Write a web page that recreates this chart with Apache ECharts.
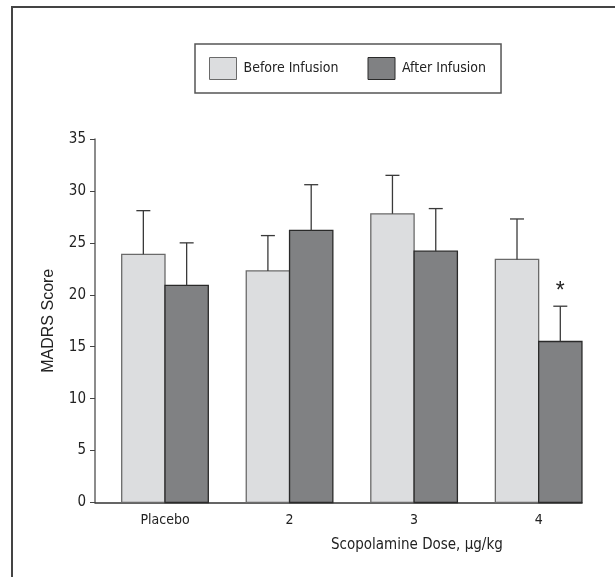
<!DOCTYPE html>
<html>
<head>
<meta charset="utf-8">
<script src="https://cdn.jsdelivr.net/npm/echarts@6/dist/echarts.min.js"></script>
<style>html,body{margin:0;padding:0;background:#fff;}#c{width:615px;height:577px;}</style>
</head>
<body>
<div id="c"></div>
<script>
// ---- data ----
const categories = ['Placebo', '2', '3', '4'];
const xPositions = [1, 2, 3, 4];
const beforeMean = [23.9, 22.3, 27.8, 23.4];
const beforeSD   = [4.2, 3.4, 3.7, 3.9];
const afterMean  = [20.9, 26.2, 24.2, 15.5];
const afterSD    = [4.1, 4.4, 4.1, 3.4];
const afterSig   = ['', '', '', '*'];
const yTicks = [0, 5, 10, 15, 20, 25, 30, 35];

const NARROW = '"Liberation Sans Narrow", "DejaVu Sans Condensed", "Arial Narrow", sans-serif';
const REG = '"Liberation Sans", Arial, sans-serif';
const BAR_PX = 43.3;
const BEFORE_FILL = '#dcdddf', AFTER_FILL = '#808183';

function barItem(side) {
  return function (params, api) {
    const x = api.value(0), v = api.value(1);
    const top = api.coord([x, v]);
    const base = api.coord([x, 0]);
    const x0 = side < 0 ? top[0] - BAR_PX : top[0];
    return {
      type: 'rect',
      shape: { x: x0, y: top[1], width: BAR_PX, height: base[1] - top[1] },
      style: {
        fill: side < 0 ? BEFORE_FILL : AFTER_FILL,
        stroke: side < 0 ? '#6a6a6a' : '#2a2a2a',
        lineWidth: 1.3
      }
    };
  };
}

function errItem(params, api) {
  const x = api.value(0), v = api.value(1), t = api.value(2), side = api.value(3);
  const p0 = api.coord([x, v]);
  const p1 = api.coord([x, t]);
  const cx = p0[0] + side * BAR_PX / 2;
  const children = [
    { type: 'line', shape: { x1: cx, y1: p0[1], x2: cx, y2: p1[1] }, style: { stroke: '#3a3a3a', lineWidth: 1.3 } },
    { type: 'line', shape: { x1: cx - 7, y1: p1[1], x2: cx + 7, y2: p1[1] }, style: { stroke: '#3a3a3a', lineWidth: 1.3 } }
  ];
  const sig = api.value(4);
  if (sig && sig !== '-') {
    children.push({ type: 'text', style: { text: String(sig), x: cx, y: p1[1] - 15, align: 'center', verticalAlign: 'middle', font: '23px ' + REG, fill: '#222' } });
  }
  return { type: 'group', children };
}

const beforeData = xPositions.map((x, i) => [x, beforeMean[i]]);
const afterData = xPositions.map((x, i) => [x, afterMean[i]]);
const beforeErr = xPositions.map((x, i) => [x, beforeMean[i], beforeMean[i] + beforeSD[i], -1, '-']);
const afterErr = xPositions.map((x, i) => [x, afterMean[i], afterMean[i] + afterSD[i], 1, afterSig[i] || '-']);

const chart = echarts.init(document.getElementById('c'), null, { renderer: 'canvas' });
chart.setOption({
  backgroundColor: '#fff',
  animation: false,
  graphic: [{
    type: 'rect', shape: { x: 12, y: 7, width: 800, height: 800 },
    style: { fill: 'none', stroke: '#444', lineWidth: 2 }, silent: true, z: -10
  }],
  title: {
    text: 'Scopolamine Dose, µg/kg', left: 326, top: 533,
    textStyle: { fontFamily: NARROW, fontSize: 15, fontWeight: 'normal', color: '#222' }
  },
  legend: {
    left: 195, top: 44,
    padding: [13, 15, 13, 14],
    borderColor: '#555', borderWidth: 1.5,
    itemWidth: 27, itemHeight: 22, itemGap: 29,
    icon: 'rect',
    textStyle: { fontFamily: NARROW, fontSize: 14, color: '#222', padding: [0, 0, 0, 2] },
    data: [
      { name: 'Before Infusion', itemStyle: { color: BEFORE_FILL, borderColor: '#6a6a6a', borderWidth: 1 } },
      { name: 'After Infusion', itemStyle: { color: AFTER_FILL, borderColor: '#2a2a2a', borderWidth: 1 } }
    ]
  },
  grid: { left: 95, right: 33, top: 139, bottom: 74.5 },
  xAxis: {
    type: 'value', min: 0.438, max: 4.348,
    axisLine: { show: true, lineStyle: { color: '#333', width: 1.5 } },
    axisTick: { show: false },
    splitLine: { show: false },
    axisLabel: {
      customValues: xPositions,
      formatter: v => categories[xPositions.indexOf(v)] || '',
      fontFamily: NARROW, fontSize: 14, color: '#222', margin: 11
    }
  },
  yAxis: {
    type: 'value', min: 0, max: 35, interval: 5,
    name: 'MADRS Score', nameLocation: 'middle', nameGap: 38,
    nameTextStyle: { fontFamily: REG, fontSize: 16, color: '#222' },
    axisLine: { show: true, lineStyle: { color: '#666', width: 1.5 } },
    axisTick: { show: true, length: 5, lineStyle: { color: '#444' } },
    splitLine: { show: false },
    axisLabel: {
      formatter: v => (yTicks.indexOf(v) >= 0 ? String(v) : ''),
      fontFamily: NARROW, fontSize: 15, color: '#222', margin: 9
    }
  },
  series: [
    { name: 'Before Infusion', type: 'custom', renderItem: barItem(-1), data: beforeData,
      itemStyle: { color: BEFORE_FILL }, encode: { x: 0, y: 1 }, z: 2 },
    { name: 'After Infusion', type: 'custom', renderItem: barItem(1), data: afterData,
      itemStyle: { color: AFTER_FILL }, encode: { x: 0, y: 1 }, z: 2 },
    { name: 'Before Infusion SD', type: 'custom', renderItem: errItem, data: beforeErr,
      encode: { x: 0, y: [1, 2] }, z: 3 },
    { name: 'After Infusion SD', type: 'custom', renderItem: errItem, data: afterErr,
      encode: { x: 0, y: [1, 2] }, z: 3 }
  ]
});
</script>
</body>
</html>
